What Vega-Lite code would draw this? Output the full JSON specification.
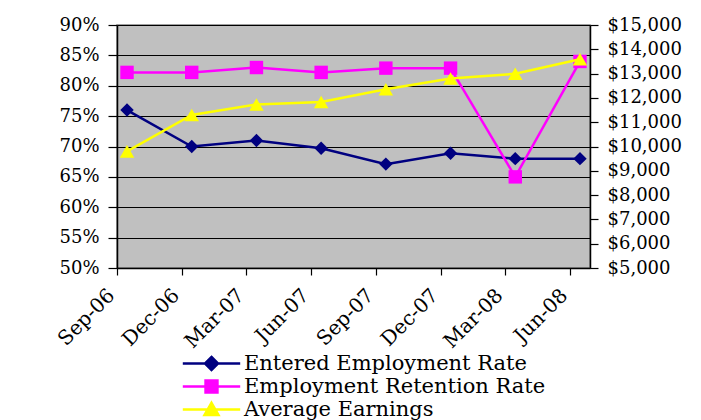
{
  "$schema": "https://vega.github.io/schema/vega-lite/v6.json",
  "width": 473,
  "height": 243,
  "autosize": {"type": "none"},
  "padding": {"left": 117, "top": 25, "right": 111, "bottom": 152},
  "background": "white",
  "config": {
    "font": "DejaVu Serif",
    "view": {"fill": "#C0C0C0", "stroke": "#808080", "strokeWidth": 1.5},
    "axis": {
      "labelFont": "DejaVu Serif",
      "labelFontSize": 18,
      "labelColor": "black",
      "domainColor": "black",
      "domainWidth": 1.5,
      "tickColor": "black",
      "tickWidth": 1.2,
      "title": null
    },
    "legend": {
      "labelFont": "DejaVu Serif",
      "labelFontSize": 21,
      "labelColor": "black",
      "labelLimit": 0,
      "padding": 0
    }
  },
  "datasets": {
    "rates": [
      {"period": "Sep-06", "series": "Entered Employment Rate", "rate": 0.76},
      {"period": "Dec-06", "series": "Entered Employment Rate", "rate": 0.70},
      {"period": "Mar-07", "series": "Entered Employment Rate", "rate": 0.71},
      {"period": "Jun-07", "series": "Entered Employment Rate", "rate": 0.697},
      {"period": "Sep-07", "series": "Entered Employment Rate", "rate": 0.671},
      {"period": "Dec-07", "series": "Entered Employment Rate", "rate": 0.689},
      {"period": "Mar-08", "series": "Entered Employment Rate", "rate": 0.68},
      {"period": "Jun-08", "series": "Entered Employment Rate", "rate": 0.68},
      {"period": "Sep-06", "series": "Employment Retention Rate", "rate": 0.822},
      {"period": "Dec-06", "series": "Employment Retention Rate", "rate": 0.822},
      {"period": "Mar-07", "series": "Employment Retention Rate", "rate": 0.83},
      {"period": "Jun-07", "series": "Employment Retention Rate", "rate": 0.822},
      {"period": "Sep-07", "series": "Employment Retention Rate", "rate": 0.829},
      {"period": "Dec-07", "series": "Employment Retention Rate", "rate": 0.829},
      {"period": "Mar-08", "series": "Employment Retention Rate", "rate": 0.65},
      {"period": "Jun-08", "series": "Employment Retention Rate", "rate": 0.84}
    ],
    "earnings": [
      {"period": "Sep-06", "series": "Average Earnings", "earnings": 9800},
      {"period": "Dec-06", "series": "Average Earnings", "earnings": 11300},
      {"period": "Mar-07", "series": "Average Earnings", "earnings": 11730},
      {"period": "Jun-07", "series": "Average Earnings", "earnings": 11830},
      {"period": "Sep-07", "series": "Average Earnings", "earnings": 12360},
      {"period": "Dec-07", "series": "Average Earnings", "earnings": 12800},
      {"period": "Mar-08", "series": "Average Earnings", "earnings": 12990},
      {"period": "Jun-08", "series": "Average Earnings", "earnings": 13590}
    ]
  },
  "encoding": {
    "x": {
      "field": "period",
      "type": "nominal",
      "sort": ["Sep-06", "Dec-06", "Mar-07", "Jun-07", "Sep-07", "Dec-07", "Mar-08", "Jun-08"],
      "scale": {"type": "point", "padding": 0.155},
      "axis": {"labelAngle": -45, "tickSize": 7, "tickOffset": -10, "labelOffset": -13, "labelPadding": 10, "labelFontSize": 20, "grid": false}
    }
  },
  "layer": [
    {
      "data": {"name": "rates"},
      "encoding": {
        "y": {
          "field": "rate",
          "type": "quantitative",
          "scale": {"domain": [0.5, 0.9], "nice": false, "zero": false},
          "axis": {
            "orient": "left",
            "values": [0.5, 0.55, 0.6, 0.65, 0.7, 0.75, 0.8, 0.85, 0.9],
            "format": ".0%",
            "tickSize": 9,
            "labelPadding": 9,
            "grid": true,
            "gridColor": "black",
            "gridWidth": 1,
            "gridOpacity": 1
          }
        },
        "color": {
          "field": "series",
          "type": "nominal",
          "scale": {
            "domain": ["Entered Employment Rate", "Employment Retention Rate", "Average Earnings"],
            "range": ["#000080", "#FF00FF", "#FFFF00"]
          },
          "legend": null
        }
      },
      "layer": [
        {"mark": {"type": "line", "strokeWidth": 2.5}},
        {
          "mark": {"type": "point", "filled": true, "opacity": 1, "size": 180},
          "encoding": {
            "shape": {
              "field": "series",
              "type": "nominal",
              "scale": {
                "domain": ["Entered Employment Rate", "Employment Retention Rate", "Average Earnings"],
                "range": ["diamond", "square", "triangle-up"]
              },
              "legend": null
            }
          }
        }
      ]
    },
    {
      "data": {"name": "earnings"},
      "encoding": {
        "y": {
          "field": "earnings",
          "type": "quantitative",
          "scale": {"domain": [5000, 15000], "nice": false, "zero": false},
          "axis": {
            "orient": "right",
            "values": [5000, 6000, 7000, 8000, 9000, 10000, 11000, 12000, 13000, 14000, 15000],
            "format": "$,.0f",
            "tickSize": 8,
            "labelPadding": 9,
            "grid": false
          }
        },
        "color": {
          "field": "series",
          "type": "nominal",
          "scale": {
            "domain": ["Entered Employment Rate", "Employment Retention Rate", "Average Earnings"],
            "range": ["#000080", "#FF00FF", "#FFFF00"]
          },
          "legend": null
        }
      },
      "layer": [
        {"mark": {"type": "line", "strokeWidth": 2.5}},
        {
          "mark": {"type": "point", "filled": true, "opacity": 1, "size": 210},
          "encoding": {
            "shape": {
              "field": "series",
              "type": "nominal",
              "scale": {
                "domain": ["Entered Employment Rate", "Employment Retention Rate", "Average Earnings"],
                "range": ["diamond", "square", "triangle-up"]
              },
              "legend": null
            }
          }
        }
      ]
    },
    {
      "data": {"name": "rates"},
      "transform": [{"filter": "datum.rate > 1"}],
      "mark": {"type": "point", "filled": true, "size": 196, "strokeWidth": 2.5, "opacity": 1},
      "encoding": {
        "fill": {
          "field": "series",
          "type": "nominal",
          "scale": {
            "domain": ["Entered Employment Rate", "Employment Retention Rate", "Average Earnings"],
            "range": ["#000080", "#FF00FF", "#FFFF00"]
          },
          "legend": {"title": null, "orient": "none", "legendX": 84, "legendY": 328, "labelOffset": 22, "rowPadding": -1, "symbolSize": 196, "symbolStrokeWidth": 2.5, "labelLimit": 0}
        },
        "stroke": {
          "field": "series",
          "type": "nominal",
          "scale": {
            "domain": ["Entered Employment Rate", "Employment Retention Rate", "Average Earnings"],
            "range": ["#000080", "#FF00FF", "#FFFF00"]
          },
          "legend": {"title": null, "orient": "none", "legendX": 84, "legendY": 328, "labelOffset": 22, "rowPadding": -1, "symbolSize": 196, "symbolStrokeWidth": 2.5, "labelLimit": 0}
        },
        "shape": {
          "field": "series",
          "type": "nominal",
          "scale": {
            "domain": ["Entered Employment Rate", "Employment Retention Rate", "Average Earnings"],
            "range": [
              "M-4.1,0H4.1M0,-0.93L0.93,0L0,0.93L-0.93,0Z",
              "M-4.1,0H4.1M-0.85,-0.85H0.85V0.85H-0.85Z",
              "M-4.1,0H4.1M0,-0.95L1,0.8L-1,0.8Z"
            ]
          },
          "legend": {"title": null, "orient": "none", "legendX": 84, "legendY": 328, "labelOffset": 22, "rowPadding": -1, "symbolSize": 196, "symbolStrokeWidth": 2.5, "labelLimit": 0}
        }
      }
    }
  ],
  "resolve": {"scale": {"y": "independent", "shape": "independent", "fill": "independent", "stroke": "independent"}}
}
